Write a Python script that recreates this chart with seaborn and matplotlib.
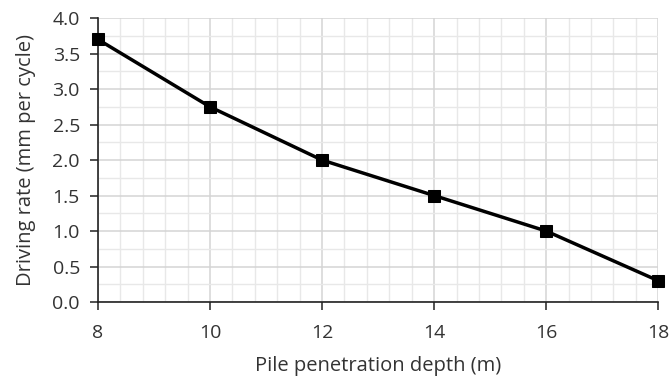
import matplotlib
matplotlib.use("Agg")
import matplotlib.pyplot as plt
import seaborn as sns
import pandas as pd
from matplotlib.ticker import MultipleLocator, FormatStrFormatter

depth = [8, 10, 12, 14, 16, 18]
rate = [3.7, 2.75, 2.0, 1.5, 1.0, 0.3]

sns.set_style("white")
plt.rcParams['font.family'] = ['Open Sans', 'DejaVu Sans']

df = pd.DataFrame({"depth": depth, "rate": rate})

fig = plt.figure(figsize=(6.71, 3.78), dpi=100)
ax = fig.add_axes([0.146, 0.201, 0.835, 0.751])

sns.lineplot(data=df, x="depth", y="rate", ax=ax, color="black", linewidth=2.5,
             marker="s", markersize=8, markeredgecolor="black", clip_on=False, zorder=5)

ax.set_xlim(8, 18)
ax.set_ylim(0, 4.0)
ax.xaxis.set_major_locator(MultipleLocator(2))
ax.xaxis.set_minor_locator(MultipleLocator(0.4))
ax.yaxis.set_major_locator(MultipleLocator(0.5))
ax.yaxis.set_minor_locator(MultipleLocator(0.25))
ax.yaxis.set_major_formatter(FormatStrFormatter("%.1f"))
ax.grid(which="major", color="#d4d4d4", linewidth=1.1)
ax.grid(which="minor", color="#e8e8e8", linewidth=1.0)
ax.set_axisbelow(True)

for s in ["top", "right"]:
    ax.spines[s].set_visible(False)
for s in ["left", "bottom"]:
    ax.spines[s].set_color("#222222")
    ax.spines[s].set_linewidth(1.2)

ax.tick_params(which="major", direction="out", length=6, width=1.1, color="#222222",
               labelsize=14, labelcolor="#333333", left=True, bottom=True)
ax.tick_params(axis="x", pad=10)
ax.tick_params(axis="y", pad=7)
ax.tick_params(which="minor", length=0)
ax.set_xlabel("Pile penetration depth (m)", fontsize=14.5, color="#333333", labelpad=10)
ax.set_ylabel("Driving rate (mm per cycle)", fontsize=14.5, color="#333333", labelpad=12)

fig.savefig("out.png", dpi=100)
